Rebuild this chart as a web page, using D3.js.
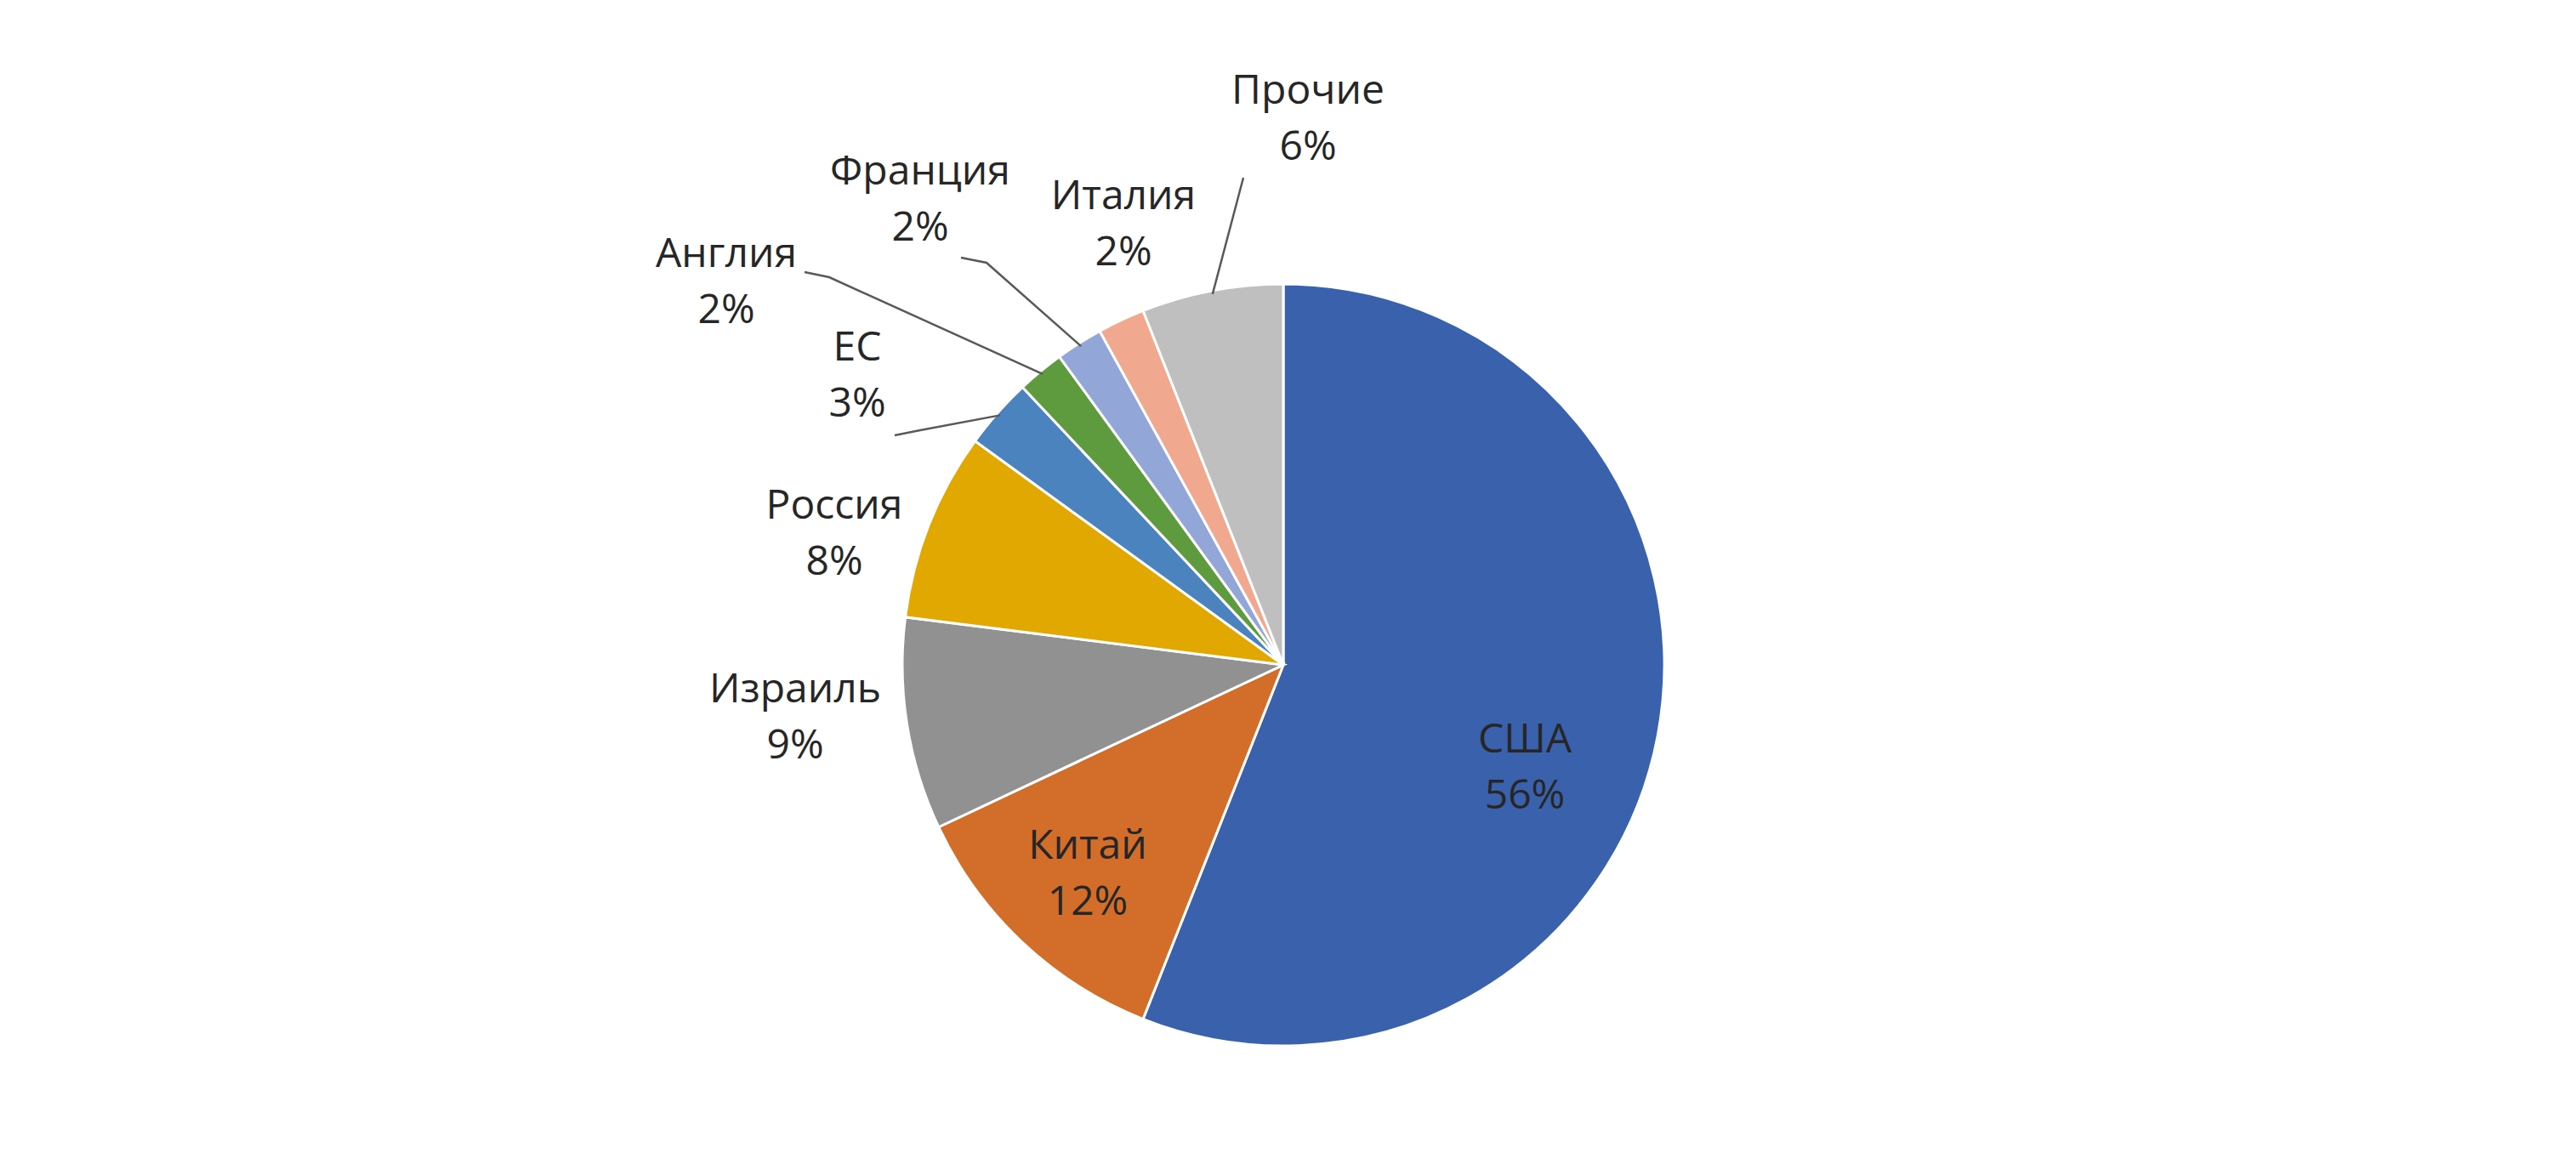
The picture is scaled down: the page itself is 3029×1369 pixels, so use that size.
<!DOCTYPE html>
<html><head><meta charset="utf-8">
<script src="https://cdn.jsdelivr.net/npm/d3@7"></script>
<style>body{margin:0;background:#fff}</style></head>
<body><svg id="c" width="3029" height="1369"></svg>
<script>
const categories = ["США","Китай","Израиль","Россия","ЕС","Англия","Франция","Италия","Прочие"];
const values = [56,12,9,8,3,2,2,2,6];
const colors = ["#3A62AC","#D26E2A","#919191","#E0A800","#4A83BE","#5E9A3E","#93A6D8","#F0A88E","#BFBFBF"];
const labelText = ["США\n56%","Китай\n12%","Израиль\n9%","Россия\n8%","ЕС\n3%","Англия\n2%","Франция\n2%","Италия\n2%","Прочие\n6%"];

const cx=1509, cy=782, R=448;
const labelPos = {"США":[1793,885],"Китай":[1279,1010],"Израиль":[935,826],"Россия":[981,610],"ЕС":[1008,424],"Англия":[854,314],"Франция":[1082,217],"Италия":[1321,246],"Прочие":[1538,122]};
const leaders = {"ЕС":[[1052,512],[1082,506]],"Англия":[[946,320],[975,326]],"Франция":[[1130,303],[1160,309]],"Прочие":[[1462,209]]};

const svg=d3.select("#c");
const g=svg.append("g").attr("transform",`translate(${cx},${cy})`);
const data=categories.map((c,i)=>({c,v:values[i],col:colors[i],t:labelText[i]}));
const pie=d3.pie().value(d=>d.v).sort(null);
const arc=d3.arc().innerRadius(0).outerRadius(R);
const arcs=pie(data);
g.selectAll("path").data(arcs).join("path").attr("d",arc).attr("fill",d=>d.data.col).attr("stroke","#fff").attr("stroke-width",3);

arcs.forEach(a=>{
  const L=leaders[a.data.c];
  if(L){
    const m=(a.startAngle+a.endAngle)/2;
    const ex=cx+Math.sin(m)*(R-4), ey=cy-Math.cos(m)*(R-4);
    const pts=L.concat([[ex,ey]]);
    svg.append("path").attr("d",d3.line()(pts)).attr("fill","none").attr("stroke","#595959").attr("stroke-width",2.5);
  }
  const [x,y]=labelPos[a.data.c];
  const t=svg.append("text").attr("x",x).attr("y",y).attr("text-anchor","middle")
   .attr("font-family","Open Sans, Liberation Sans, sans-serif").attr("font-size",48).attr("fill","#262626");
  a.data.t.split("\n").forEach((s,i)=>t.append("tspan").attr("x",x).attr("dy",i?66:0).text(s));
});
</script></body></html>
